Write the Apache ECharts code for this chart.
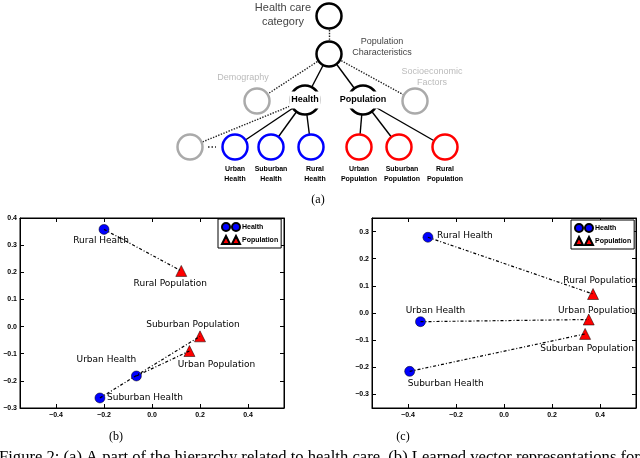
<!DOCTYPE html>
<html><head><meta charset="utf-8">
<script src="https://cdn.jsdelivr.net/npm/echarts@6/dist/echarts.min.js"></script>
<style>html,body{margin:0;padding:0;background:#fff}#c{width:640px;height:458px}</style>
</head><body><div id="c"></div>
<script>
// ---- (a) hierarchy ----
const treeLabels = ['Health care\ncategory','Population\nCharacteristics','Demography','Socioeconomic\nFactors','Health','Population','','Urban\nHealth','Suburban\nHealth','Rural\nHealth','Urban\nPopulation','Suburban\nPopulation','Rural\nPopulation'];
const treeGroup = ['root','root','other','other','mid','mid','other','health','health','health','pop','pop','pop'];
const treeLinks = [[0,1,'dotted'],[1,2,'dotted'],[1,3,'dotted'],[1,4,'solid'],[1,5,'solid'],[4,6,'dotted'],[4,7,'solid'],[4,8,'solid'],[4,9,'solid'],[5,10,'solid'],[5,11,'solid'],[5,12,'solid']];
// diagram layout (pixel positions and label offsets)
const treePos = [[329,16],[329,54],[257,101],[415,101],[305,100],[363,100],[190,147],[235,147],[271,147],[311,147],[359,147],[399,147],[445,147]];
const treeLabelOffset = [[-46,-1],[53,-7],[-14,-23],[17,-24],[0,0],[0,0],[0,0],[0,27],[0,27],[4,27],[0,27],[3,27],[0,27]];

// ---- (b) and (c) scatter values ----
const pairNames = ['Rural','Urban','Suburban'];
const healthB = [[-0.200,0.358],[-0.065,-0.182],[-0.217,-0.263]];
const popB    = [[0.122,0.205],[0.156,-0.090],[0.200,-0.036]];
const healthC = [[-0.317,0.279],[-0.348,-0.032],[-0.393,-0.215]];
const popC    = [[0.371,0.070],[0.353,-0.024],[0.338,-0.077]];
const xTicks = [-0.4,-0.2,0,0.2,0.4];
const yTicksB = [-0.3,-0.2,-0.1,0,0.1,0.2,0.3,0.4];
const yTicksC = [-0.3,-0.2,-0.1,0,0.1,0.2,0.3];
// label offsets (pixels)
const offHB = [[-3,11],[-30,-16],[45,0]];
const offPB = [[-11,13],[27,14],[-7,-12]];
const offHC = [[37,-2],[15,-11],[36,12]];
const offPC = [[7,-13],[8,-9],[2,15]];

const styles = {
  root:{border:'#000', color:'#444', size:9, weight:'normal'},
  other:{border:'#aaa', color:'#bbb', size:9, weight:'normal'},
  mid:{border:'#000', color:'#000', size:9, weight:'bold'},
  health:{border:'#0000ff', color:'#000', size:7, weight:'bold'},
  pop:{border:'#ff0000', color:'#000', size:7, weight:'bold'}
};
const treeData = treeLabels.map((lab,i)=>{
  const s = styles[treeGroup[i]];
  const lbl = {show: lab!=='', formatter: lab, position:'inside', offset: treeLabelOffset[i],
    color: s.color, fontSize: s.size, fontWeight: s.weight, fontFamily:'Liberation Sans, Arial',
    lineHeight: s.size===7?10:11, align:'center'};
  if (i===0){ lbl.fontSize = 11; lbl.lineHeight = 14; }
  const item = {name: 'n'+i, value: treePos[i], itemStyle:{color:'#fff', borderColor:s.border, borderWidth:2.5}, label: lbl};
  if (treeGroup[i]==='mid'){ lbl.backgroundColor='#fff'; lbl.padding=[3,2]; item.symbolSize = 29; }
  return item;
});
const treeEdges = treeLinks.map(l=>({source:l[0], target:l[1], lineStyle:{type:l[2], color: l[2]==='dotted'?'#222':'#000', width:1.4, opacity:1, curveness:0}}));

const fmt = v => (v<0?'\u2212':'') + Math.abs(v).toFixed(1);
const tickFont = {fontSize:7, color:'#000', fontFamily:'Liberation Sans', fontWeight:'bold'};
function xAx(grid, pos, lab){
  return {type:'value', gridIndex:grid, position:pos, min:-0.55, max:0.55,
    axisLine:{show:true, onZero:false, lineStyle:{color:'#000', width:1}},
    axisTick:{show:true, inside:true, length:4, customValues:xTicks, lineStyle:{color:'#000'}},
    axisLabel:{show:lab, customValues:xTicks, formatter:fmt, margin:4, ...tickFont},
    splitLine:{show:false}};
}
function yAx(grid, pos, lab, mn, mx, ticks){
  return {type:'value', gridIndex:grid, position:pos, min:mn, max:mx,
    axisLine:{show:true, onZero:false, lineStyle:{color:'#000', width:1}},
    axisTick:{show:true, inside:true, length:4, customValues:ticks, lineStyle:{color:'#000'}},
    axisLabel:{show:lab, customValues:ticks, formatter:fmt, margin:3, ...tickFont},
    splitLine:{show:false}};
}
const ptLabel = {show:true, position:'inside', formatter:'{b}', color:'#000', fontSize:9, fontFamily:'DejaVu Sans'};
function scatterSeries(name, pts, offs, suffix, xi, yi, sym, col){
  return {type:'scatter', name:name, xAxisIndex:xi, yAxisIndex:yi, symbol:sym, symbolSize:sym==='circle'?10:11, z:2,
    itemStyle:{color:col, borderColor:'#000', borderWidth:0.5, opacity:1},
    label:ptLabel,
    data: pts.map((p,i)=>({name: pairNames[i]+' '+suffix, value:p, label:{offset:offs[i]}}))};
}
function pairLines(hs, ps, xi, yi){
  return hs.map((h,i)=>({type:'line', name:'pair', xAxisIndex:xi, yAxisIndex:yi, symbol:'none', z:3, silent:true,
    lineStyle:{color:'#000', width:1.2, type:[3,2,1,2]}, data:[h, ps[i]]}));
}
const circ2 = 'path://M0,4a4,4 0 1,0 8,0a4,4 0 1,0 -8,0zM10,4a4,4 0 1,0 8,0a4,4 0 1,0 -8,0z';
const tri2 = 'path://M0,8L4,0L8,8zM10,8L14,0L18,8z';
function legendAt(l,t){
  return {left:l, top:t, orient:'vertical', selectedMode:false,
    data:[{name:'Health', icon:circ2},{name:'Population', icon:tri2}],
    itemWidth:18, itemHeight:8, itemGap:3, padding:[3,3,3,3],
    borderColor:'#000', borderWidth:1, backgroundColor:'#fff',
    textStyle:{fontSize:7, fontWeight:'bold', color:'#000', fontFamily:'Liberation Sans', padding:[0,0,0,-3]}};
}

const chart = echarts.init(document.getElementById('c'), null, {renderer:'canvas'});
chart.setOption({
  animation:false,
  backgroundColor:'#fff',
  grid:[
    {left:20, top:218, width:264, height:190, show:true, borderColor:'#000', borderWidth:1, containLabel:false, outerBoundsMode:'none'},
    {left:372, top:218, width:264, height:190, show:true, borderColor:'#000', borderWidth:1, containLabel:false, outerBoundsMode:'none'},
    {left:0, top:0, width:640, height:200, show:false, outerBoundsMode:'none'}
  ],
  xAxis:[xAx(0,'bottom',true), xAx(0,'top',false), xAx(1,'bottom',true), xAx(1,'top',false),
    {type:'value', gridIndex:2, min:0, max:640, show:false}],
  yAxis:[yAx(0,'left',true,-0.3,0.4,yTicksB), yAx(0,'right',false,-0.3,0.4,yTicksB),
    yAx(1,'left',true,-0.35,0.35,yTicksC), yAx(1,'right',false,-0.35,0.35,yTicksC),
    {type:'value', gridIndex:2, min:0, max:200, inverse:true, show:false}],
  legend:[legendAt(218,219), legendAt(571,220)],
  series:[
    {type:'graph', layout:'none', coordinateSystem:'cartesian2d', xAxisIndex:4, yAxisIndex:4,
     symbol:'circle', symbolSize:25, silent:true, data:treeData, links:treeEdges,
     lineStyle:{opacity:1, color:'#000'}},
    ...pairLines(healthB, popB, 0, 0),
    ...pairLines(healthC, popC, 2, 2),
    scatterSeries('Health', healthB, offHB, 'Health', 0, 0, 'circle', '#0000ff'),
    scatterSeries('Population', popB, offPB, 'Population', 0, 0, 'triangle', '#ff0000'),
    scatterSeries('Health', healthC, offHC, 'Health', 2, 2, 'circle', '#0000ff'),
    scatterSeries('Population', popC, offPC, 'Population', 2, 2, 'triangle', '#ff0000')
  ],
  graphic:[
    {type:'line', shape:{x1:208, y1:147, x2:216, y2:147}, style:{stroke:'#222', lineWidth:1.4, lineDash:[1.5,2]}},
    {type:'text', x:318, y:200, style:{text:'(a)', font:'12px "Liberation Serif"', fill:'#000', textAlign:'center', textVerticalAlign:'middle'}},
    {type:'text', x:116, y:437, style:{text:'(b)', font:'12px "Liberation Serif"', fill:'#000', textAlign:'center', textVerticalAlign:'middle'}},
    {type:'text', x:403, y:437, style:{text:'(c)', font:'12px "Liberation Serif"', fill:'#000', textAlign:'center', textVerticalAlign:'middle'}},
    {type:'text', x:-1, y:449, style:{text:'Figure 2: (a) A part of the hierarchy related to health care. (b) Learned vector representations for', font:'16.6px "Liberation Serif"', fill:'#000', textAlign:'left', textVerticalAlign:'top'}}
  ]
});
</script></body></html>
